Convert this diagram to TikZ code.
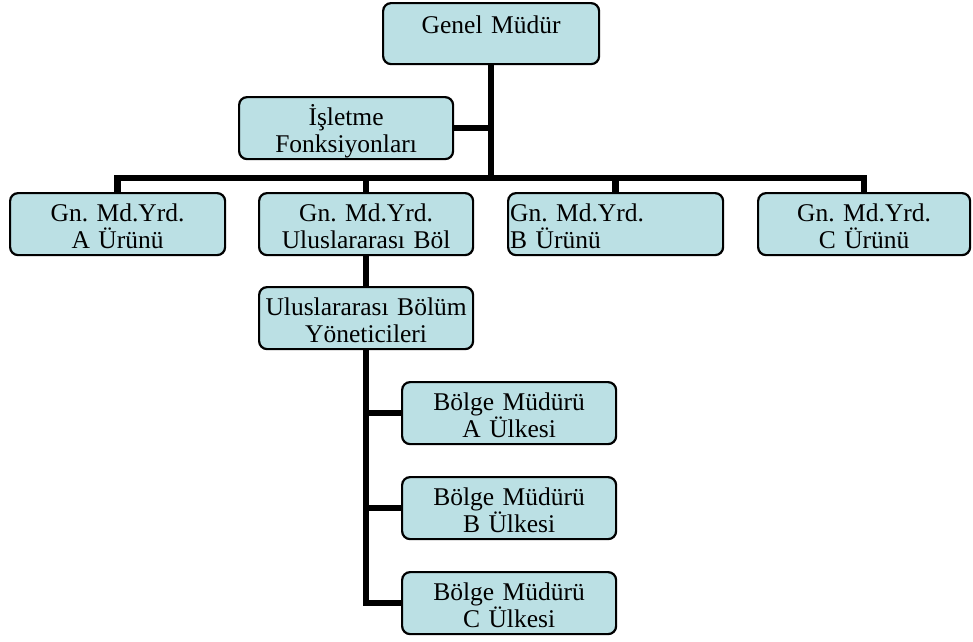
\documentclass[tikz,border=0pt]{standalone}
\usepackage{fontspec}
\setmainfont{Liberation Serif}
\definecolor{boxfill}{RGB}{187,224,228}
\newcommand\orgfont{\fontsize{25.5}{27}\selectfont\frenchspacing\lineskiplimit=-20pt\relax}
\tikzset{
  orgbox/.style={draw=black, line width=2.2pt, fill=boxfill, rounded corners=8pt,
    inner xsep=0pt, inner ysep=0pt, align=center, anchor=north west,
    font=\orgfont, text height=28pt, text depth=34pt},
  conn/.style={draw=black, line width=6.5pt}
}
\begin{document}
\begin{tikzpicture}[x=1pt, y=-1pt]
\useasboundingbox (0,0) rectangle (973,641);

% top level
\node[orgbox, text width=216pt, text height=30pt, text depth=31pt] (gm) at (382,2) {Genel Müdür};
\node[orgbox, text width=214pt] (isl) at (238,96) {İşletme\\Fonksiyonları};

% deputy directors
\node[orgbox, text width=215pt] (ya) at (9,192) {Gn. Md.Yrd.\\A Ürünü};
\node[orgbox, text width=214pt] (yu) at (258,192) {Gn. Md.Yrd.\\Uluslararası Böl};
\node[orgbox, text width=211pt, align=left, inner xsep=2pt] (yb) at (507,192) {Gn. Md.Yrd.\\B Ürünü};
\node[orgbox, text width=212pt] (yc) at (757,192) {Gn. Md.Yrd.\\C Ürünü};

% international division
\node[orgbox, text width=214pt] (yon) at (258,286) {Uluslararası Bölüm\\Yöneticileri};
\node[orgbox, text width=214pt] (ba) at (401,381) {Bölge Müdürü\\A Ülkesi};
\node[orgbox, text width=214pt] (bb) at (401,476) {Bölge Müdürü\\B Ülkesi};
\node[orgbox, text width=214pt] (bc) at (401,571) {Bölge Müdürü\\C Ülkesi};

\coordinate (hub) at (490,178);

% connectors
\draw[conn] (gm.south) -- (gm.south |- hub);
\draw[conn] (isl.east) -- (isl.east -| gm.south);
\draw[conn] (ya.north) |- (yc.north |- hub) -- (yc.north);
\draw[conn] (yu.north) -- (yu.north |- hub);
\draw[conn] (yb.north) -- (yb.north |- hub);
\draw[conn] (yu.south) -- (yon.north);
\draw[conn] (yon.south) |- (bc.west);
\draw[conn] (yon.south |- ba.west) -- (ba.west);
\draw[conn] (yon.south |- bb.west) -- (bb.west);
\end{tikzpicture}
\end{document}
